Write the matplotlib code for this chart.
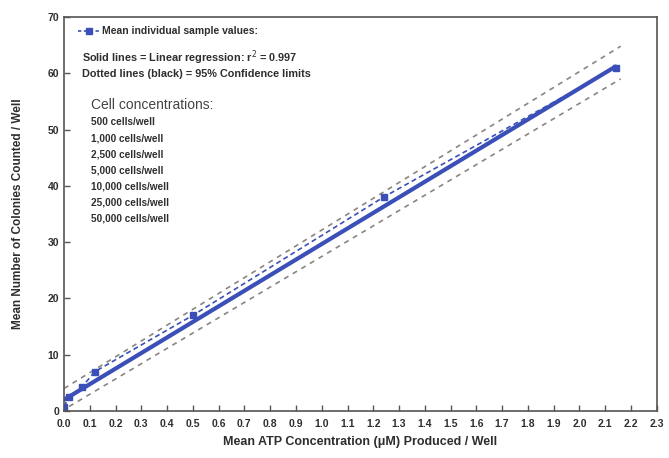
import matplotlib
matplotlib.use('Agg')
from matplotlib import pyplot as plt
from matplotlib.lines import Line2D
import numpy as np

plt.rcParams['font.family'] = ['Liberation Sans', 'DejaVu Sans']

# mean individual sample values
atp = [0.0, 0.02, 0.07, 0.12, 0.50, 1.24, 2.14]
colonies = [0.8, 2.5, 4.3, 7.0, 17.0, 38.0, 61.0]

# linear regression and 95% confidence limits (end points)
reg_x = [0.0, 2.14]
reg_y = [2.0, 61.2]
upper_x = [0.0, 2.16]
upper_y = [4.0, 64.8]
lower_x = [0.02, 2.16]
lower_y = [0.8, 59.0]

cell_labels = ['500 cells/well', '1,000 cells/well', '2,500 cells/well',
               '5,000 cells/well', '10,000 cells/well', '25,000 cells/well',
               '50,000 cells/well']

blue = '#3b4fb8'
grey = '#8a8580'
txt = '#2e2e2e'

fig = plt.figure(figsize=(6.69, 4.58), dpi=100)
ax = fig.add_axes([0.0957, 0.1026, 0.886, 0.8603])

ax.plot(upper_x, upper_y, '--', color=grey, lw=1.2, dashes=(3, 3))
ax.plot(lower_x, lower_y, '--', color=grey, lw=1.2, dashes=(3, 3))
ax.plot(reg_x, reg_y, '-', color=blue, lw=3, solid_capstyle='round')
ax.plot(atp, colonies, '--', color=blue, lw=1.2, marker='s', ms=5,
        dashes=(3, 2))

ax.set_xlim(0, 2.3)
ax.set_ylim(0, 70)
ax.set_xticks(np.arange(0, 2.31, 0.1))
ax.set_xticklabels(['%.1f' % v for v in np.arange(0, 2.31, 0.1)])
ax.set_yticks(range(0, 71, 10))
ax.tick_params(direction='in', length=4, width=1, colors='#555555',
               labelcolor=txt, labelsize=7.5)
ax.tick_params(axis='x', pad=6)
for lab in ax.get_xticklabels() + ax.get_yticklabels():
    lab.set_fontweight('bold')
for s in ax.spines.values():
    s.set_color('#555555')
    s.set_linewidth(1.2)

ax.set_xlabel('Mean ATP Concentration (\u03bcM) Produced / Well',
              fontsize=9, fontweight='bold', color=txt, labelpad=5)
ax.set_ylabel('Mean Number of Colonies Counted / Well',
              fontsize=8.5, fontweight='bold', color=txt, labelpad=17)

h = Line2D([], [], color=blue, ls='--', marker='s', ms=4, lw=1.2,
           dashes=(2, 1.5))
ax.legend([h], ['Mean individual sample values:'], loc='upper left',
          bbox_to_anchor=(0.008, 1.0), frameon=False, handlelength=2.0,
          numpoints=1, handletextpad=0.3,
          prop={'size': 7.5, 'weight': 'bold'}, labelcolor=txt)

ax.text(0.03, 0.896, 'Solid lines = Linear regression: r$^2$ = 0.997',
        transform=ax.transAxes, fontsize=7.8, fontweight='bold', color=txt,
        va='center')
ax.text(0.03, 0.856, 'Dotted lines (black) = 95% Confidence limits',
        transform=ax.transAxes, fontsize=7.8, fontweight='bold', color=txt,
        va='center')
ax.text(0.045, 0.777, 'Cell concentrations:', transform=ax.transAxes,
        fontsize=10, color='#444444', va='center')
for i, lab in enumerate(cell_labels):
    ax.text(0.045, 0.733 - i * 0.0406, lab, transform=ax.transAxes,
            fontsize=7.2, fontweight='bold', color=txt, va='center')

fig.savefig('out.png', dpi=100)
